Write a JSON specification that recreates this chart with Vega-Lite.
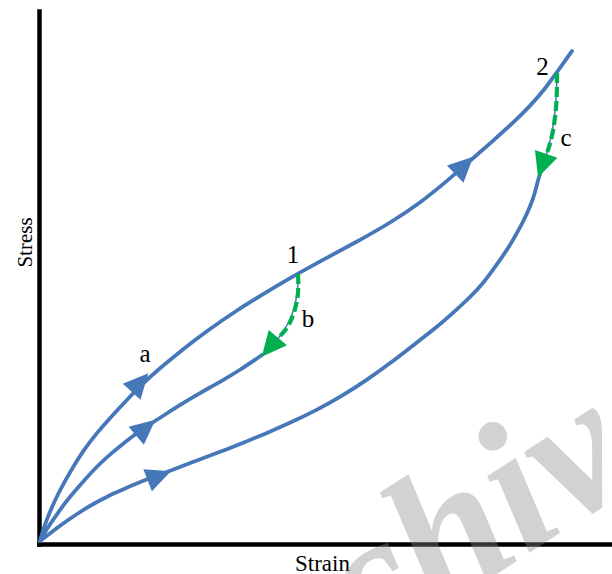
{
  "$schema": "https://vega.github.io/schema/vega-lite/v6.json",
  "width": 573,
  "height": 533,
  "autosize": {"type": "none"},
  "padding": {"left": 39, "top": 11, "right": 0, "bottom": 30},
  "background": "white",
  "config": {"view": {"stroke": null}},
  "datasets": {
    "main": [
      {"s": "A", "x": 1, "y": 3}, {"s": "A", "x": 4, "y": 14}, {"s": "A", "x": 8, "y": 25}, {"s": "A", "x": 13, "y": 37},
      {"s": "A", "x": 19, "y": 50}, {"s": "A", "x": 26, "y": 63}, {"s": "A", "x": 34, "y": 77}, {"s": "A", "x": 44, "y": 93},
      {"s": "A", "x": 57, "y": 110}, {"s": "A", "x": 71, "y": 126}, {"s": "A", "x": 86, "y": 142}, {"s": "A", "x": 101, "y": 158},
      {"s": "A", "x": 121, "y": 176}, {"s": "A", "x": 143, "y": 194}, {"s": "A", "x": 165, "y": 211}, {"s": "A", "x": 198, "y": 234},
      {"s": "A", "x": 231, "y": 254}, {"s": "A", "x": 258, "y": 270}, {"s": "A", "x": 291, "y": 288}, {"s": "A", "x": 321, "y": 304},
      {"s": "A", "x": 351, "y": 321}, {"s": "A", "x": 381, "y": 341}, {"s": "A", "x": 408, "y": 363}, {"s": "A", "x": 431, "y": 383},
      {"s": "A", "x": 456, "y": 405}, {"s": "A", "x": 475, "y": 422}, {"s": "A", "x": 491, "y": 438}, {"s": "A", "x": 506, "y": 455},
      {"s": "A", "x": 518, "y": 472}, {"s": "A", "x": 526, "y": 483}, {"s": "A", "x": 533, "y": 493},
      {"s": "B", "x": 1, "y": 3}, {"s": "B", "x": 7, "y": 14}, {"s": "B", "x": 16, "y": 27}, {"s": "B", "x": 28, "y": 44},
      {"s": "B", "x": 43, "y": 61}, {"s": "B", "x": 58, "y": 78}, {"s": "B", "x": 74, "y": 92}, {"s": "B", "x": 86, "y": 102},
      {"s": "B", "x": 98, "y": 111}, {"s": "B", "x": 107, "y": 117}, {"s": "B", "x": 116, "y": 123}, {"s": "B", "x": 130, "y": 132},
      {"s": "B", "x": 144, "y": 141}, {"s": "B", "x": 161, "y": 151}, {"s": "B", "x": 181, "y": 162}, {"s": "B", "x": 201, "y": 174},
      {"s": "B", "x": 223, "y": 189},
      {"s": "C", "x": 1, "y": 3}, {"s": "C", "x": 9, "y": 9}, {"s": "C", "x": 18, "y": 16}, {"s": "C", "x": 29, "y": 24},
      {"s": "C", "x": 41, "y": 32}, {"s": "C", "x": 54, "y": 40}, {"s": "C", "x": 69, "y": 48}, {"s": "C", "x": 85, "y": 55},
      {"s": "C", "x": 94, "y": 59}, {"s": "C", "x": 111, "y": 66}, {"s": "C", "x": 131, "y": 73}, {"s": "C", "x": 156, "y": 83},
      {"s": "C", "x": 181, "y": 92}, {"s": "C", "x": 206, "y": 102}, {"s": "C", "x": 228, "y": 111}, {"s": "C", "x": 253, "y": 122},
      {"s": "C", "x": 278, "y": 134}, {"s": "C", "x": 303, "y": 148}, {"s": "C", "x": 328, "y": 164}, {"s": "C", "x": 353, "y": 182},
      {"s": "C", "x": 381, "y": 204}, {"s": "C", "x": 398, "y": 217}, {"s": "C", "x": 414, "y": 231}, {"s": "C", "x": 428, "y": 244},
      {"s": "C", "x": 441, "y": 257}, {"s": "C", "x": 451, "y": 270}, {"s": "C", "x": 461, "y": 284}, {"s": "C", "x": 470, "y": 297},
      {"s": "C", "x": 478, "y": 311}, {"s": "C", "x": 485, "y": 324}, {"s": "C", "x": 491, "y": 337}, {"s": "C", "x": 496, "y": 351},
      {"s": "C", "x": 499, "y": 364}, {"s": "C", "x": 501, "y": 370}
    ],
    "thin": [
      {"s": "B", "x": 223, "y": 189}, {"s": "B", "x": 233, "y": 198}, {"s": "B", "x": 243, "y": 210}, {"s": "B", "x": 250, "y": 222},
      {"s": "B", "x": 255, "y": 234}, {"s": "B", "x": 258, "y": 249}, {"s": "B", "x": 259, "y": 259}, {"s": "B", "x": 259, "y": 270},
      {"s": "C", "x": 501, "y": 370}, {"s": "C", "x": 505, "y": 382}, {"s": "C", "x": 509, "y": 394}, {"s": "C", "x": 513, "y": 411},
      {"s": "C", "x": 516, "y": 429}, {"s": "C", "x": 517.5, "y": 449}, {"s": "C", "x": 518, "y": 471}
    ],
    "green": [
      {"s": "b", "x": 259, "y": 270}, {"s": "b", "x": 259.5, "y": 259}, {"s": "b", "x": 259, "y": 249}, {"s": "b", "x": 257, "y": 238},
      {"s": "b", "x": 254, "y": 228}, {"s": "b", "x": 250, "y": 219}, {"s": "b", "x": 245, "y": 212}, {"s": "b", "x": 240, "y": 207},
      {"s": "c", "x": 518, "y": 471}, {"s": "c", "x": 518, "y": 456}, {"s": "c", "x": 517.5, "y": 441}, {"s": "c", "x": 516, "y": 426},
      {"s": "c", "x": 514, "y": 412}, {"s": "c", "x": 511, "y": 400}, {"s": "c", "x": 508, "y": 391}
    ],
    "arrows": [
      {"k": "blue", "x": 101, "y": 161.5, "a": 42},
      {"k": "blue", "x": 425.2, "y": 378.6, "a": 46},
      {"k": "blue", "x": 106.8, "y": 116.3, "a": 50},
      {"k": "blue", "x": 120.3, "y": 68.2, "a": 69},
      {"k": "green", "x": 230.8, "y": 196.9, "a": 220},
      {"k": "green", "x": 503.1, "y": 378.2, "a": 199}
    ],
    "labels": [
      {"t": "a", "x": 106, "y": 182.3},
      {"t": "1", "x": 254, "y": 280.7},
      {"t": "b", "x": 269, "y": 217.3},
      {"t": "2", "x": 503.5, "y": 469},
      {"t": "c", "x": 527, "y": 398}
    ],
    "wm": [{"t": "chive", "x": 327, "y": -115}]
  },
  "layer": [
    {
      "data": {"name": "wm"},
      "mark": {"type": "text", "font": "Liberation Serif", "fontSize": 190, "fontStyle": "italic", "fontWeight": "bold", "angle": 327, "align": "left", "baseline": "alphabetic", "color": "#8a8a8c", "opacity": 0.38},
      "encoding": {
        "x": {"field": "x", "type": "quantitative", "scale": {"domain": [0, 573], "nice": false, "zero": false},
          "axis": {"title": "Strain", "domain": true, "domainColor": "black", "domainWidth": 4.5, "domainCap": "square", "ticks": false, "labels": false, "grid": false,
            "titleFont": "Liberation Serif", "titleFontSize": 23, "titleFontWeight": "normal", "titleColor": "black", "titleX": 283, "titleY": 26, "titleBaseline": "alphabetic", "titleAlign": "center"}},
        "y": {"field": "y", "type": "quantitative", "scale": {"domain": [0, 533], "nice": false, "zero": false},
          "axis": {"title": "Stress", "domain": true, "domainColor": "black", "domainWidth": 4.5, "domainCap": "square", "ticks": false, "labels": false, "grid": false,
            "titleFont": "Liberation Serif", "titleFontSize": 21, "titleFontWeight": "normal", "titleColor": "black", "titleAngle": 270, "titleX": -8, "titleY": 231, "titleBaseline": "alphabetic", "titleAlign": "center"}},
        "text": {"field": "t"}
      }
    },
    {
      "data": {"name": "main"},
      "mark": {"type": "line", "color": "#4677b8", "strokeWidth": 3.8, "strokeCap": "round", "strokeJoin": "round", "interpolate": "basis"},
      "encoding": {
        "x": {"field": "x", "type": "quantitative"},
        "y": {"field": "y", "type": "quantitative"},
        "detail": {"field": "s"},
        "order": {"value": null}
      }
    },
    {
      "data": {"name": "thin"},
      "mark": {"type": "line", "color": "#4677b8", "strokeWidth": 1.5, "interpolate": "basis"},
      "encoding": {
        "x": {"field": "x", "type": "quantitative"},
        "y": {"field": "y", "type": "quantitative"},
        "detail": {"field": "s"},
        "order": {"value": null}
      }
    },
    {
      "data": {"name": "green"},
      "mark": {"type": "line", "color": "#00b050", "strokeWidth": 4.2, "strokeDash": [10, 4], "interpolate": "basis"},
      "encoding": {
        "x": {"field": "x", "type": "quantitative"},
        "y": {"field": "y", "type": "quantitative"},
        "detail": {"field": "s"},
        "order": {"value": null}
      }
    },
    {
      "data": {"name": "arrows"},
      "mark": {"type": "point", "shape": "M0,-1L0.95,1L-0.95,1Z", "filled": true, "opacity": 1, "size": 625, "strokeWidth": 0},
      "encoding": {
        "x": {"field": "x", "type": "quantitative"},
        "y": {"field": "y", "type": "quantitative"},
        "angle": {"field": "a", "type": "quantitative", "scale": null},
        "color": {"field": "k", "type": "nominal", "scale": {"domain": ["blue", "green"], "range": ["#4677b8", "#00b050"]}, "legend": null}
      }
    },
    {
      "data": {"name": "labels"},
      "mark": {"type": "text", "font": "Liberation Serif", "fontSize": 25, "color": "black", "align": "center", "baseline": "alphabetic"},
      "encoding": {
        "x": {"field": "x", "type": "quantitative"},
        "y": {"field": "y", "type": "quantitative"},
        "text": {"field": "t"}
      }
    }
  ]
}
